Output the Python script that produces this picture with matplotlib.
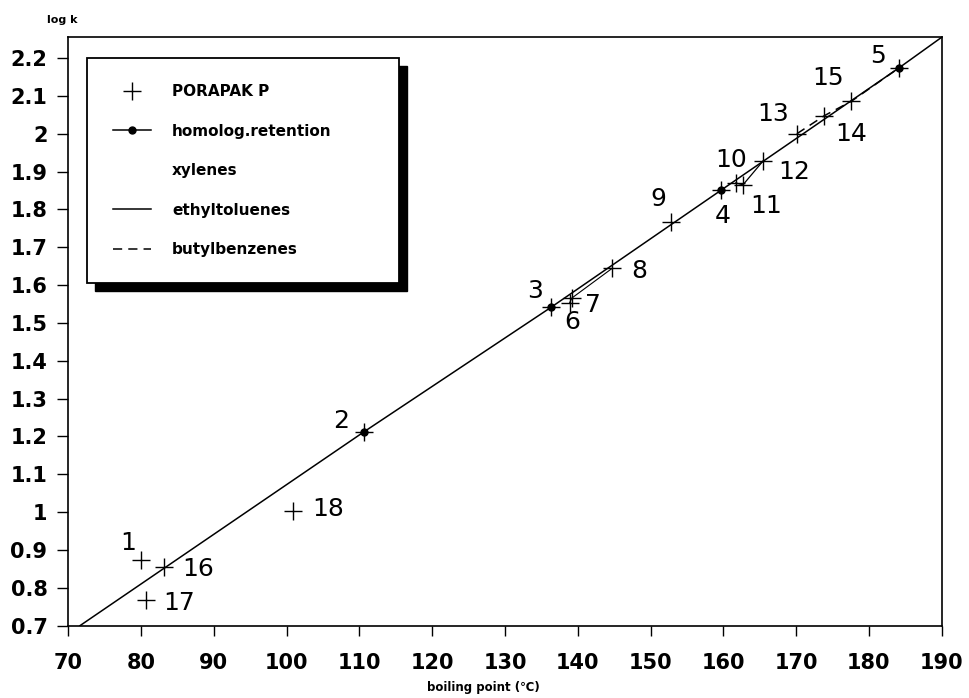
import numpy as np
import matplotlib
matplotlib.use("Agg")
from matplotlib import pyplot as plt
from matplotlib.lines import Line2D
from matplotlib.patches import Rectangle

plt.rcParams['font.family'] = ['DejaVu Sans']

# compound numbers, boiling points (C) and log k
labels = [str(i) for i in range(1, 19)]
bp = [80.0, 110.6, 136.3, 159.7, 184.2, 138.9, 139.2, 144.7, 152.8,
      161.7, 162.7, 165.5, 170.1, 173.9, 177.6, 83.1, 80.7, 100.9]
logk = [0.874, 1.212, 1.541, 1.851, 2.175, 1.554, 1.566, 1.644, 1.766,
        1.870, 1.865, 1.929, 2.000, 2.048, 2.086, 0.856, 0.768, 1.004]

# homologous series line (benzene derivatives), extended to the axes edges
hom_bp = [71.6, 110.6, 136.3, 159.7, 184.2, 190.0]
hom_logk = [0.700, 1.212, 1.541, 1.851, 2.175, 2.255]
hom_idx = [1, 2, 3, 4]          # points with a filled dot

xyl_idx = [5, 6, 7]             # xylenes
eth_idx = [9, 10, 11]           # ethyltoluenes
but_idx = [12, 13, 14, 4]       # butylbenzenes

xticks = list(range(70, 191, 10))
yticks = [0.7, 0.8, 0.9, 1.0, 1.1, 1.2, 1.3, 1.4, 1.5, 1.6, 1.7, 1.8, 1.9, 2.0, 2.1, 2.2]
ytick_labels = ['0.7', '0.8', '0.9', '1', '1.1', '1.2', '1.3', '1.4', '1.5',
                '1.6', '1.7', '1.8', '1.9', '2', '2.1', '2.2']

# label offsets in pixels (dx, dy)
offsets = [(-13, 17), (-23, 11), (-16, 16), (2, -26), (-21, 12), (2, -19),
           (21, -7), (27, -3), (-13, 23), (-5, 23), (23, -21), (31, -11),
           (-24, 20), (27, -18), (-23, 23), (35, -2), (33, -3), (35, 2)]

bp = np.array(bp)
logk = np.array(logk)

fig = plt.figure(figsize=(9.7, 6.98), dpi=100)
ax = fig.add_axes([0.0704, 0.1036, 0.9004, 0.843])

ax.plot(hom_bp, hom_logk, color='black', lw=1.1)
ax.plot(bp[hom_idx], logk[hom_idx], 'o', color='black', ms=5)
ax.plot(bp[xyl_idx], logk[xyl_idx], color='black', lw=0.8)
ax.plot(bp[eth_idx], logk[eth_idx], color='black', lw=0.9)
ax.plot(bp[but_idx], logk[but_idx], color='black', lw=1.1, ls=(0, (6, 4)))
ax.plot(bp, logk, '+', color='black', ms=13, mew=1.0)

for i, lab in enumerate(labels):
    ax.annotate(lab, (bp[i], logk[i]), xytext=offsets[i], textcoords='offset pixels',
                ha='center', va='center', fontsize=18)

ax.set_xlim(70, 190)
ax.set_ylim(0.7, 2.255)
ax.set_xticks(xticks)
ax.set_yticks(yticks)
ax.set_yticklabels(ytick_labels)
ax.tick_params(axis='x', direction='out', length=7, width=1, pad=13, labelsize=15)
ax.tick_params(axis='y', direction='out', length=8, width=1, pad=7, labelsize=15)
for t in ax.get_xticklabels() + ax.get_yticklabels():
    t.set_fontweight('bold')
for s in ax.spines.values():
    s.set_linewidth(1.2)

fig.text(0.048, 0.972, 'log k', fontsize=8, fontweight='bold', ha='left', va='center')
fig.text(0.498, 0.015, 'boiling point (\u2103)', fontsize=8.5, fontweight='bold',
         ha='center', va='center')

handles = [
    Line2D([], [], ls='none', marker='+', color='black', ms=13, mew=1.0),
    Line2D([], [], color='black', lw=1.1, marker='o', ms=5),
    Line2D([], [], ls='none'),
    Line2D([], [], color='black', lw=1.1),
    Line2D([], [], color='black', lw=1.1, ls=(0, (6, 4))),
]
names = ['PORAPAK P', 'homolog.retention', 'xylenes', 'ethyltoluenes', 'butylbenzenes']
leg = ax.legend(handles, names, loc='upper left', bbox_to_anchor=(0.021, 0.9643, 0.3575, 0),
                mode='expand', borderaxespad=0, fancybox=False, framealpha=1,
                edgecolor='black', prop={'weight': 'bold', 'size': 11},
                handlelength=2.5, handletextpad=1.4, labelspacing=1.6, borderpad=1.7)
leg.get_frame().set_linewidth(1.3)

fig.canvas.draw()
bb = leg.get_window_extent()
shadow = Rectangle((bb.x0 + 8, bb.y0 - 8), bb.width, bb.height, transform=None,
                   facecolor='black', edgecolor='black', zorder=4.9)
ax.add_artist(shadow)

fig.savefig('out.png', dpi=100, facecolor='white')
